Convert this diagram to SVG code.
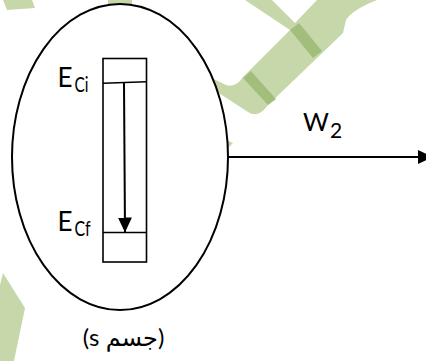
<svg xmlns="http://www.w3.org/2000/svg" width="426" height="361" viewBox="0 0 426 361">
  <style>
    .wm { fill: #c6d8a9; }
    .wmd { fill: #a3be7c; }
    .ln { fill: none; stroke: #000; stroke-width: 1.6; }
    .lbl { font-family: Lato, "DejaVu Sans", sans-serif; fill: #000; }
  </style>
  <defs>
    <marker id="ah" markerWidth="16" markerHeight="16" refX="15" refY="7" orient="auto" markerUnits="userSpaceOnUse">
      <path d="M0,0 L15,7 L0,14 Z" fill="#000"/>
    </marker>
  </defs>
  <g id="watermark">
    <path class="wm" d="M195 70 L226 85 Q236 88 243 77 L290 30 L245 0 L272 0 L295 23 L317 0 L377 0 Q352 10 346 20 L343 33 L268 105 Q258 119 248 112 L205 84 Z"/>
    <polygon class="wmd" points="290,30 299,23 322,51 313,58"/>
    <polygon class="wmd" points="243,78 251,71 276,99 268,105"/>
    <polygon class="wm" points="3,0 32,0 35,8 7,10"/>
    <polygon class="wm" points="108,0 132,0 132,9 108,9"/>
    <polygon class="wm" points="0,285 3,273 25,308 14,361 0,361"/>
    <polygon class="wm" points="220,137 233,143 226,150"/>
  </g>
  <g id="body">
    <ellipse cx="120" cy="157" rx="108" ry="153" fill="#fff" stroke="#000" stroke-width="2"/>
  </g>
  <g id="bar">
    <rect class="ln" x="103" y="58.5" width="43.5" height="203.5"/>
    <line class="ln" x1="103" y1="83.3" x2="146.5" y2="81.7"/>
    <line class="ln" x1="103" y1="232.5" x2="146.5" y2="232.5"/>
  </g>
  <g id="connectors">
    <line x1="124" y1="83" x2="125" y2="232.5" stroke="#000" stroke-width="2" marker-end="url(#ah)"/>
    <line x1="228" y1="157" x2="433" y2="157" stroke="#000" stroke-width="2" marker-end="url(#ah)"/>
  </g>
  <g id="label-eci">
    <text class="lbl" x="57.5" y="87" font-size="26">E<tspan x="74.5" y="92" font-size="22" textLength="14" lengthAdjust="spacingAndGlyphs">Ci</tspan></text>
  </g>
  <g id="label-ecf">
    <text class="lbl" x="57.5" y="231" font-size="26">E<tspan x="74.5" y="236" font-size="22" textLength="16" lengthAdjust="spacingAndGlyphs">Cf</tspan></text>
  </g>
  <g id="label-w2">
    <text class="lbl" x="303" y="131" font-size="25">W<tspan x="330" y="137.5" font-size="21">2</tspan></text>
  </g>
  <g id="label-body">
    <text class="lbl" x="123.5" y="346" font-size="24" text-anchor="middle" direction="rtl" unicode-bidi="embed">(جسم s)</text>
  </g>
</svg>
